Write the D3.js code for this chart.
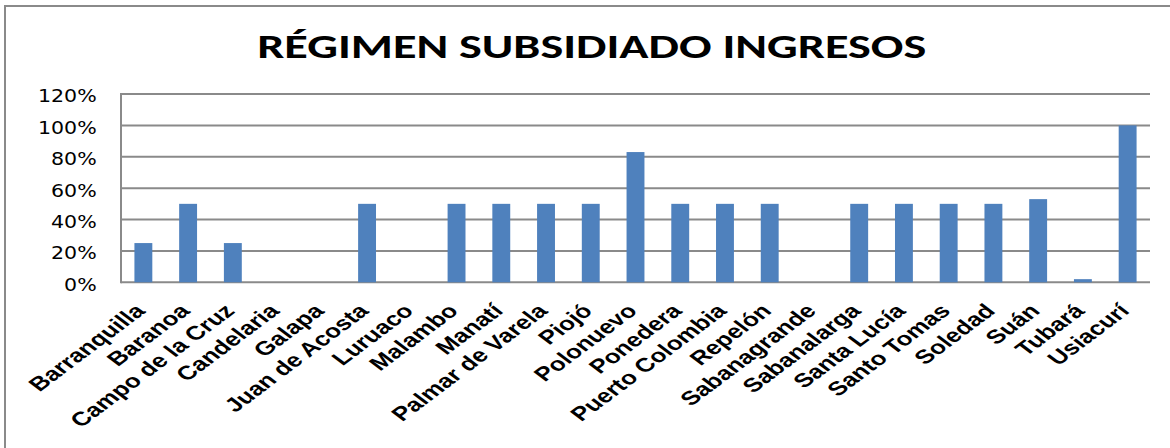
<!DOCTYPE html>
<html>
<head>
<meta charset="utf-8">
<script src="https://cdn.jsdelivr.net/npm/d3@7"></script>
<style>
  html, body { margin: 0; padding: 0; background: #fff; }
  svg { display: block; }
</style>
</head>
<body>
<div id="chart"></div>
<script>
// data
const municipios = ["Barranquilla", "Baranoa", "Campo de la Cruz", "Candelaria", "Galapa",
  "Juan de Acosta", "Luruaco", "Malambo", "Manatí", "Palmar de Varela", "Piojó", "Polonuevo",
  "Ponedera", "Puerto Colombia", "Repelón", "Sabanagrande", "Sabanalarga", "Santa Lucía",
  "Santo Tomas", "Soledad", "Suán", "Tubará", "Usiacurí"];
const porcentajes = [0.25, 0.50, 0.25, 0, 0, 0.50, 0, 0.50, 0.50, 0.50, 0.50, 0.83,
  0.50, 0.50, 0.50, 0, 0.50, 0.50, 0.50, 0.50, 0.53, 0.02, 1.00];
const yTicks = [0, 0.2, 0.4, 0.6, 0.8, 1.0, 1.2];
const titulo = "RÉGIMEN SUBSIDIADO INGRESOS";

const width = 1170, height = 448;
const plot = { left: 121, right: 1150, top: 94, bottom: 282.3 };
const gridColor = "#8a8a8a";

const svg = d3.select("#chart").append("svg")
  .attr("width", width)
  .attr("height", height);

// marco exterior del grafico (recortado a la derecha y abajo)
svg.append("rect")
  .attr("x", 5).attr("y", 6)
  .attr("width", width + 20).attr("height", height + 20)
  .attr("fill", "#fff")
  .attr("stroke", gridColor)
  .attr("stroke-width", 2);

// titulo
svg.append("text")
  .attr("x", 591.7)
  .attr("y", 58.3)
  .attr("text-anchor", "middle")
  .attr("font-family", "Carlito, Lato, 'Open Sans', sans-serif")
  .attr("font-weight", "bold")
  .attr("font-size", 35)
  .attr("textLength", 669)
  .attr("lengthAdjust", "spacingAndGlyphs")
  .attr("fill", "#000")
  .text(titulo);

const x = d3.scaleBand()
  .domain(municipios)
  .range([plot.left, plot.right])
  .paddingInner(0.6)
  .paddingOuter(0.3);

const y = d3.scaleLinear()
  .domain([0, 1.2])
  .range([plot.bottom, plot.top]);

// lineas de division
svg.append("g")
  .selectAll("line")
  .data(yTicks)
  .join("line")
  .attr("x1", plot.left)
  .attr("x2", plot.right)
  .attr("y1", d => y(d))
  .attr("y2", d => y(d))
  .attr("stroke", gridColor)
  .attr("stroke-width", 2);

// eje vertical
svg.append("line")
  .attr("x1", plot.left).attr("x2", plot.left)
  .attr("y1", y(1.2) - 1).attr("y2", y(0) + 1)
  .attr("stroke", gridColor)
  .attr("stroke-width", 2);

// etiquetas del eje y (la imagen original esta estirada en horizontal)
const fmt = d3.format(".0%");
svg.append("g")
  .selectAll("text")
  .data(yTicks)
  .join("text")
  .attr("transform", d => `translate(96.7,${y(d) + 8.4}) scale(1.21,1)`)
  .attr("text-anchor", "end")
  .attr("font-family", "'DejaVu Sans', Verdana, sans-serif")
  .attr("font-size", 17)
  .attr("fill", "#000")
  .text(d => fmt(d));

// barras
svg.append("g")
  .selectAll("rect")
  .data(municipios)
  .join("rect")
  .attr("x", d => x(d))
  .attr("y", (d, i) => y(porcentajes[i]))
  .attr("width", x.bandwidth())
  .attr("height", (d, i) => y(0) - y(porcentajes[i]))
  .attr("fill", "#4f81bd");

// etiquetas del eje x, giradas
svg.append("g")
  .selectAll("text")
  .data(municipios)
  .join("text")
  .attr("transform", d => `translate(${x(d) + x.bandwidth() / 2 + 3},312) scale(1.33,1) rotate(-45)`)
  .attr("text-anchor", "end")
  .attr("font-family", "'Liberation Sans', Arial, sans-serif")
  .attr("font-weight", "bold")
  .attr("font-size", 19.5)
  .attr("fill", "#000")
  .text(d => d);
</script>
</body>
</html>
